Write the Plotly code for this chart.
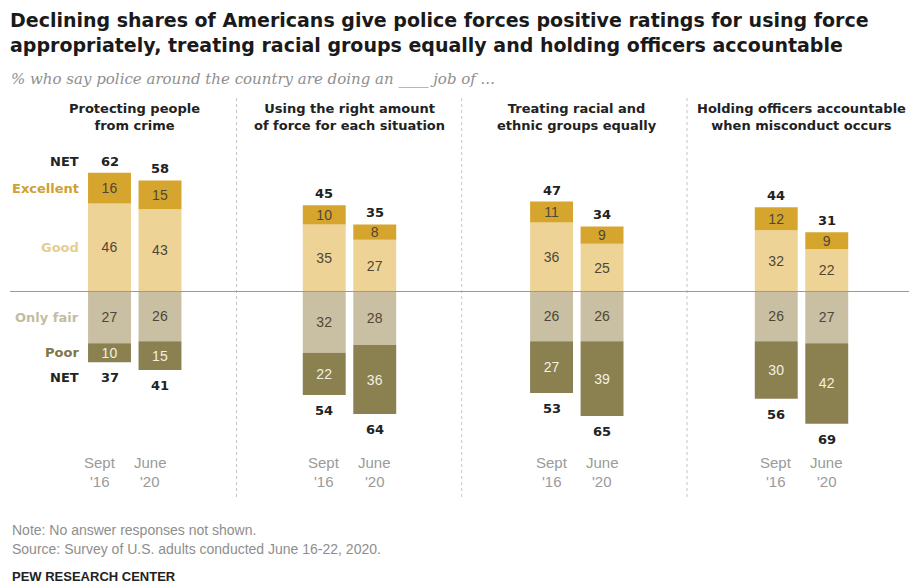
import plotly.graph_objects as go

# ---------------- data ----------------
panel_titles = [
    "Protecting people<br>from crime",
    "Using the right amount<br>of force for each situation",
    "Treating racial and<br>ethnic groups equally",
    "Holding officers accountable<br>when misconduct occurs",
]
period_line1 = ["Sept", "June"]
period_line2 = ["'16", "'20"]

excellent = [[16, 15], [10, 8], [11, 9], [12, 9]]
good = [[46, 43], [35, 27], [36, 25], [32, 22]]
only_fair = [[27, 26], [32, 28], [26, 26], [26, 27]]
poor = [[10, 15], [22, 36], [27, 39], [30, 42]]
net_positive = [[62, 58], [45, 35], [47, 34], [44, 31]]
net_negative = [[37, 41], [54, 64], [53, 65], [56, 69]]

category_names = ["Excellent", "Good", "Only fair", "Poor"]

# ---------------- styling / layout ----------------
W, H = 909, 586
ZERO_PX = 291.5
PX_PER_UNIT = 1.915
CENTERS = [134.75, 349.5, 576.8, 801.5]
UNIT_PX = 50.5
BAR_W = 0.85
DIVIDERS = [236.5, 461.7, 687.0]

C_EXC = "#D6A52E"
C_GOOD = "#EDD396"
C_FAIR = "#C9BFA2"
C_POOR = "#8B8050"
LBL_EXC = "#CFA033"
LBL_GOOD = "#E6CD93"
LBL_FAIR = "#C4BBA0"
LBL_POOR = "#7F7548"
SEG_TXT = "#4E4738"
FONT = "Liberation Sans, Arial, sans-serif"
BOLD_FONT = "DejaVu Sans, Liberation Sans, sans-serif"

ymax = ZERO_PX / PX_PER_UNIT
ymin = -(H - ZERO_PX) / PX_PER_UNIT


def py(px):
    """pixel row -> paper y"""
    return 1 - px / H


def xname(i):
    return "x" if i == 0 else f"x{i + 1}"


fig = go.Figure()

series = [
    (good, 1, C_GOOD, SEG_TXT),
    (excellent, 1, C_EXC, SEG_TXT),
    (only_fair, -1, C_FAIR, SEG_TXT),
    (poor, -1, C_POOR, "#F4F0E0"),
]

for i in range(4):
    for vals, sign, col, tcol in series:
        fig.add_trace(go.Bar(
            x=[0, 1],
            y=[sign * v for v in vals[i]],
            text=[str(v) for v in vals[i]],
            textposition="inside",
            insidetextanchor="middle",
            textangle=0,
            textfont=dict(family=FONT, size=14, color=tcol),
            marker=dict(color=col, line=dict(width=0)),
            width=BAR_W,
            xaxis=xname(i),
            yaxis="y",
            showlegend=False,
            hoverinfo="skip",
        ))

layout = dict(
    width=W, height=H, autosize=False,
    margin=dict(l=0, r=0, t=0, b=0, pad=0),
    paper_bgcolor="white", plot_bgcolor="rgba(0,0,0,0)",
    barmode="relative",
    uniformtext=dict(minsize=14, mode="show"),
    yaxis=dict(range=[ymin, ymax], domain=[0, 1], visible=False, fixedrange=True),
    font=dict(family=FONT),
)
for i, c in enumerate(CENTERS):
    key = "xaxis" if i == 0 else f"xaxis{i + 1}"
    layout[key] = dict(
        domain=[(c - UNIT_PX) / W, (c + UNIT_PX) / W],
        range=[-0.5, 1.5], visible=False, fixedrange=True,
        anchor="y",
    )
fig.update_layout(**layout)

ann = []
# Title / subtitle
ann.append(dict(
    text="Declining shares of Americans give police forces positive ratings for using force<br>"
         "appropriately, treating racial groups equally and holding officers accountable",
    xref="paper", yref="paper", x=8 / W, y=py(7), xanchor="left", yanchor="top",
    align="left", showarrow=False,
    font=dict(family=BOLD_FONT, size=19, color="#1a1a1a", weight="bold"),
))
ann.append(dict(
    text="<i>% who say police around the country are doing an ____ job of ...</i>",
    xref="paper", yref="paper", x=9 / W, y=py(79), xanchor="left", yanchor="middle",
    showarrow=False,
    font=dict(family="DejaVu Serif, serif", size=15, color="#8f8f8f"),
))

for i in range(4):
    xr = xname(i)
    # panel title
    ann.append(dict(
        text=panel_titles[i], xref="paper", yref="paper",
        x=CENTERS[i] / W, y=py(117), xanchor="center", yanchor="middle",
        showarrow=False, align="center",
        font=dict(family=BOLD_FONT, size=13, color="#222222", weight="bold"),
    ))
    for j in range(2):
        # NET above
        ann.append(dict(
            text=f"<b>{net_positive[i][j]}</b>", xref=xr, yref="y",
            x=j, y=net_positive[i][j], xanchor="center", yanchor="bottom",
            yshift=2, showarrow=False,
            font=dict(family=BOLD_FONT, size=13, color="#222222"),
        ))
        # NET below
        ann.append(dict(
            text=f"<b>{net_negative[i][j]}</b>", xref=xr, yref="y",
            x=j, y=-net_negative[i][j], xanchor="center", yanchor="top",
            yshift=-6, showarrow=False,
            font=dict(family=BOLD_FONT, size=13, color="#222222"),
        ))
        # period labels
        shift = -10 if i == 0 else 0
        ann.append(dict(
            text=period_line1[j], xref=xr, yref="paper",
            x=j, y=py(462), xanchor="center", yanchor="middle", xshift=shift,
            showarrow=False, font=dict(family=FONT, size=15, color="#9a9a9a"),
        ))
        ann.append(dict(
            text=period_line2[j], xref=xr, yref="paper",
            x=j, y=py(481), xanchor="center", yanchor="middle", xshift=shift,
            showarrow=False, font=dict(family=FONT, size=15, color="#9a9a9a"),
        ))

# category labels on the left of the first bar
e0, g0, f0, p0 = excellent[0][0], good[0][0], only_fair[0][0], poor[0][0]
left_labels = [
    ("NET", net_positive[0][0], "bottom", 2, "#222222"),
    ("Excellent", g0 + e0 / 2, "middle", 0, LBL_EXC),
    ("Good", g0 / 2, "middle", 0, LBL_GOOD),
    ("Only fair", -f0 / 2, "middle", 0, LBL_FAIR),
    ("Poor", -(f0 + p0 / 2), "middle", 0, LBL_POOR),
    ("NET", -net_negative[0][0], "top", -6, "#222222"),
]
for txt, yv, ya, ys, col in left_labels:
    ann.append(dict(
        text=f"<b>{txt}</b>", xref="x", yref="y", x=-BAR_W / 2, y=yv,
        xanchor="right", yanchor=ya, xshift=-7, yshift=ys, showarrow=False,
        font=dict(family=BOLD_FONT, size=13, color=col),
    ))

# footer
ann.append(dict(
    text="Note: No answer responses not shown.",
    xref="paper", yref="paper", x=10 / W, y=py(530), xanchor="left", yanchor="middle",
    showarrow=False, font=dict(family=FONT, size=14, color="#8e8e8e"),
))
ann.append(dict(
    text="Source: Survey of U.S. adults conducted June 16-22, 2020.",
    xref="paper", yref="paper", x=10 / W, y=py(549), xanchor="left", yanchor="middle",
    showarrow=False, font=dict(family=FONT, size=14, color="#8e8e8e"),
))
ann.append(dict(
    text="<b>PEW RESEARCH CENTER</b>",
    xref="paper", yref="paper", x=10 / W, y=py(576), xanchor="left", yanchor="middle",
    showarrow=False, font=dict(family="Liberation Sans Narrow, " + FONT, size=13, color="#222222"),
))

shapes = []
for d in DIVIDERS:
    shapes.append(dict(
        type="line", xref="paper", yref="paper",
        x0=d / W, x1=d / W, y0=py(98), y1=py(497),
        line=dict(color="#c4c4c4", width=1, dash="dot"),
    ))
shapes.append(dict(
    type="line", xref="paper", yref="y", x0=10 / W, x1=1, y0=0, y1=0,
    line=dict(color="#9a9a9a", width=1), layer="above",
))

fig.update_layout(annotations=ann, shapes=shapes)
fig.write_html("out.html")
